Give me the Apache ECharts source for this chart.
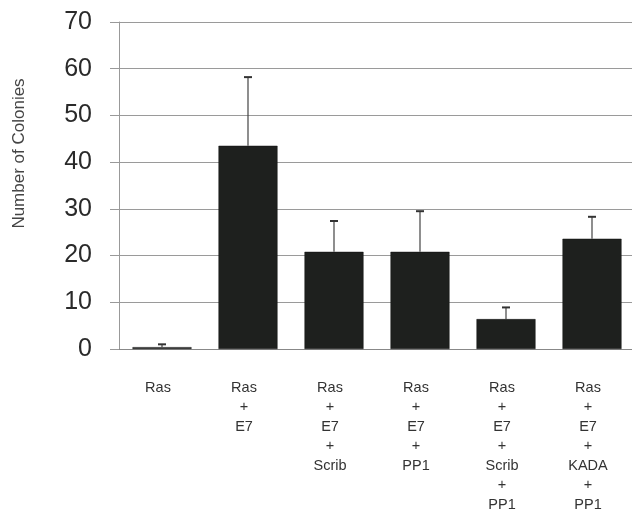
<!DOCTYPE html>
<html>
<head>
<meta charset="utf-8">
<script src="https://cdn.jsdelivr.net/npm/echarts@6/dist/echarts.min.js"></script>
<style>html,body{margin:0;padding:0;background:#fff}#c{width:632px;height:516px}</style>
</head>
<body>
<div id="c"></div>
<script>
var categories = ['Ras', 'Ras\n+\nE7', 'Ras\n+\nE7\n+\nScrib', 'Ras\n+\nE7\n+\nPP1', 'Ras\n+\nE7\n+\nScrib\n+\nPP1', 'Ras\n+\nE7\n+\nKADA\n+\nPP1'];
var means = [0.4, 43.5, 20.8, 20.8, 6.4, 23.6];
var errors = [0.6, 14.7, 6.6, 8.7, 2.5, 4.7];
var yTicks = [0, 10, 20, 30, 40, 50, 60, 70];

var errData = means.map(function (m, i) { return [i, m, m + errors[i]]; });

var chart = echarts.init(document.getElementById('c'), null, { renderer: 'canvas' });
chart.setOption({
  animation: false,
  backgroundColor: '#ffffff',
  grid: { left: 119, right: -3, top: 22, bottom: 167, containLabel: false, outerBoundsMode: 'none' },
  xAxis: {
    type: 'category',
    data: categories,
    axisLine: { show: true, lineStyle: { color: '#888', width: 1 } },
    axisTick: { show: false },
    axisLabel: {
      interval: 0, margin: 29, fontFamily: 'Liberation Sans', fontSize: 14.5,
      lineHeight: 19.5, color: '#333', align: 'center', padding: [0, 8, 0, 0]
    }
  },
  yAxis: {
    type: 'value', min: yTicks[0], max: yTicks[yTicks.length - 1], interval: 10,
    name: 'Number of Colonies', nameLocation: 'middle', nameGap: 91, nameRotate: 90,
    nameTextStyle: { fontFamily: 'Liberation Sans', fontSize: 17, color: '#444', padding: [0, 0, 0, 64] },
    axisLine: { show: true, lineStyle: { color: '#999', width: 1 } },
    axisTick: { show: true, length: 9, lineStyle: { color: '#999' } },
    axisLabel: { margin: 27, fontFamily: 'Liberation Sans', fontSize: 25, color: '#2a2a2a' },
    splitLine: { show: true, lineStyle: { color: '#9a9a9a', width: 1 } }
  },
  series: [
    {
      type: 'bar', data: means, barWidth: 59,
      itemStyle: { color: '#1e201e', borderColor: '#111', borderWidth: 0.5 }
    },
    {
      type: 'custom', data: errData, z: 3,
      renderItem: function (params, api) {
        var x = api.value(0);
        var p0 = api.coord([x, api.value(1)]);
        var p1 = api.coord([x, api.value(2)]);
        var hw = 4;
        return {
          type: 'group',
          children: [
            { type: 'line', shape: { x1: p0[0], y1: p0[1], x2: p1[0], y2: p1[1] }, style: { stroke: '#444', lineWidth: 1.2 } },
            { type: 'line', shape: { x1: p1[0] - hw, y1: p1[1], x2: p1[0] + hw, y2: p1[1] }, style: { stroke: '#333', lineWidth: 2 } }
          ]
        };
      }
    }
  ]
});
</script>
</body>
</html>
